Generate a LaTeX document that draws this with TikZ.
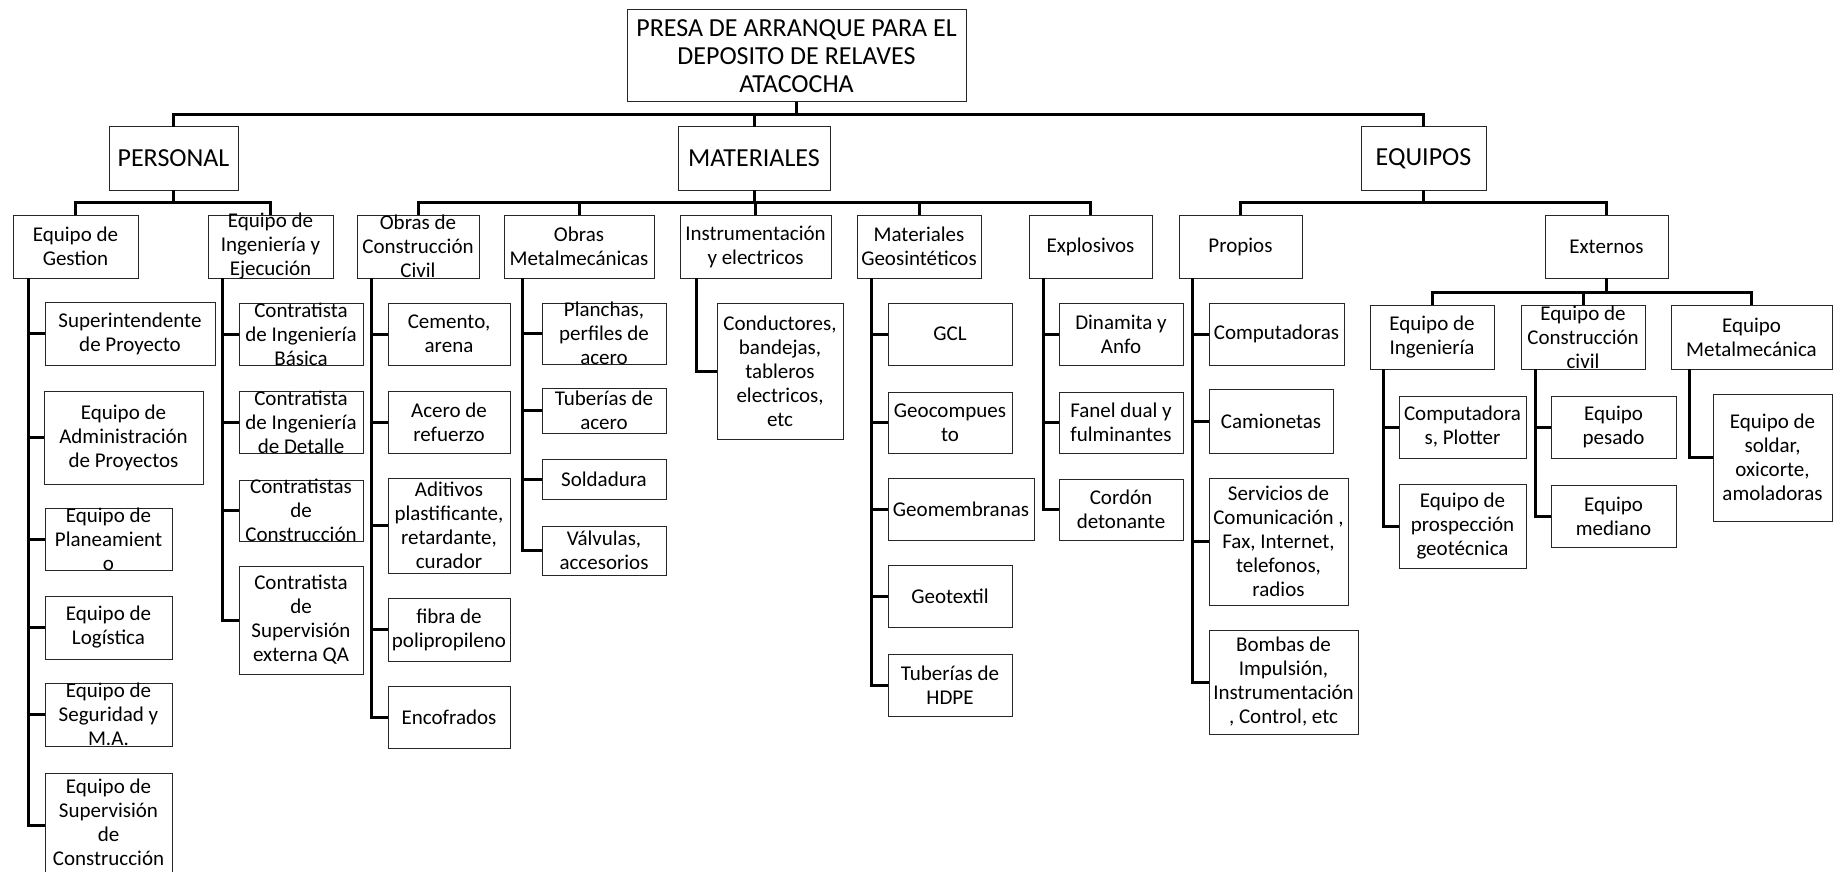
\documentclass[tikz,border=0pt]{standalone}
\usepackage{fontspec}
\setmainfont{Carlito}
\newcommand{\mybox}[6]{%
  \node[box, minimum width={(#3-#2)*1pt}, minimum height={(#5-#4)*1pt}] (#1) at ({(#2+#3)/2},{(#4+#5)/2}) {};
  \node[txt] (#1-t) at (#1.center) {#6};
}
\begin{document}
\begin{tikzpicture}[x=1pt,y=-1pt,
  box/.style={draw=black!85, line width=1pt, rectangle, inner sep=0pt, outer sep=0pt},
  txt/.style={inner sep=0pt, align=center, font=\fontsize{21}{24}\selectfont},
  bigtxt/.style={inner sep=0pt, align=center, font=\fontsize{26}{28}\selectfont},
  conn/.style={line width=3pt, black},
]
\useasboundingbox (0,0) rectangle (1833,872);
\fill[white] (0,0) rectangle (1833,872);
\clip (0,0) rectangle (1833,872);

% ---- top levels
\node[box, minimum width=339pt, minimum height=92pt] (root) at (796.5,56) {};
\node[bigtxt] (root-t) at (root.center) {PRESA DE ARRANQUE PARA EL\\DEPOSITO DE RELAVES\\ATACOCHA};
\node[box, minimum width=129pt, minimum height=63pt] (personal) at (173.5,158.5) {};
\node[bigtxt] (personal-t) at (personal.center) {PERSONAL};
\node[box, minimum width=152pt, minimum height=63pt] (materiales) at (754,158.5) {};
\node[bigtxt] (materiales-t) at (materiales.center) {MATERIALES};
\node[box, minimum width=125pt, minimum height=63pt] (equipos) at (1423.5,158.5) {};
\node[bigtxt] (equipos-t) at (equipos.center) {EQUIPOS};

% ---- level 2
\mybox{gestion}{13}{138}{215}{278}{Equipo de\\Gestion}
\mybox{ingej}{208}{333}{215}{278}{Equipo de\\Ingeniería y\\Ejecución}
\mybox{civil}{357}{479}{215}{278}{Obras de\\Construcción\\Civil}
\mybox{metal}{504}{654}{215}{278}{Obras\\Metalmecánicas}
\mybox{instr}{680}{831}{215}{278}{Instrumentación\\y electricos}
\mybox{geos}{857}{981}{215}{278}{Materiales\\Geosintéticos}
\mybox{explo}{1029}{1152}{215}{278}{Explosivos}
\mybox{propios}{1179}{1302}{215}{278}{Propios}
\mybox{externos}{1545}{1668}{215}{278}{Externos}

% ---- level 3 under Externos
\mybox{eing}{1370}{1494}{305}{369}{Equipo de\\Ingeniería}
\mybox{ecc}{1521}{1645}{305}{369}{Equipo de\\Construcción\\civil}
\mybox{emet}{1671}{1832}{305}{369}{Equipo\\Metalmecánica}

% ---- leaves: Gestion
\mybox{sup}{45}{215}{302}{365}{Superintendente\\de Proyecto}
\mybox{adm}{44}{203}{391}{484}{Equipo de\\Administración\\de Proyectos}
\mybox{plan}{45}{172}{508}{570}{Equipo de\\Planeamient\\o}
\mybox{logi}{45}{172}{596}{659}{Equipo de\\Logística}
\mybox{segu}{45}{172}{683}{746}{Equipo de\\Seguridad y\\M.A.}
\node[box, minimum width=127pt, minimum height=120pt] (supc) at (108.5,833) {};
\node[txt] (supc-t) at (108.5,822) {Equipo de\\Supervisión\\de\\Construcción};
\coordinate (supcw) at (45,825);

% ---- leaves: Ingenieria y Ejecucion
\mybox{cib}{239}{363}{303}{365}{Contratista\\de Ingeniería\\Básica}
\mybox{cid}{239}{363}{391}{453}{Contratista\\de Ingeniería\\de Detalle}
\mybox{ccon}{239}{363}{480}{541}{Contratistas\\de\\Construcción}
\mybox{csq}{239}{363}{566}{674}{Contratista\\de\\Supervisión\\externa QA}

% ---- leaves: Civil
\mybox{cem}{388}{510}{303}{365}{Cemento,\\arena}
\mybox{ace}{388}{510}{391}{453}{Acero de\\refuerzo}
\mybox{adi}{388}{510}{478}{573}{Aditivos\\plastificante,\\retardante,\\curador}
\mybox{fib}{388}{510}{598}{661}{fibra de\\polipropileno}
\mybox{enc}{388}{510}{686}{748}{Encofrados}

% ---- leaves: Metalmecanicas
\mybox{pla}{542}{666}{303}{364}{Planchas,\\perfiles de\\acero}
\mybox{tub}{542}{666}{388}{433}{Tuberías de\\acero}
\mybox{sol}{542}{666}{459}{499}{Soldadura}
\mybox{val}{542}{666}{526}{575}{Válvulas,\\accesorios}

% ---- leaves: Instrumentacion
\mybox{cond}{717}{843}{303}{439}{Conductores,\\bandejas,\\tableros\\electricos,\\etc}

% ---- leaves: Geosinteticos
\mybox{gcl}{888}{1012}{303}{365}{GCL}
\mybox{geoc}{888}{1012}{392}{453}{Geocompues\\to}
\mybox{geom}{888}{1034}{478}{540}{Geomembranas}
\mybox{geot}{888}{1012}{565}{627}{Geotextil}
\mybox{hdpe}{888}{1012}{654}{716}{Tuberías de\\HDPE}

% ---- leaves: Explosivos
\mybox{din}{1059}{1183}{303}{365}{Dinamita y\\Anfo}
\mybox{fan}{1059}{1183}{392}{453}{Fanel dual y\\fulminantes}
\mybox{cor}{1059}{1183}{479}{540}{Cordón\\detonante}

% ---- leaves: Propios
\mybox{comp}{1209}{1344}{303}{365}{Computadoras}
\mybox{cam}{1209}{1333}{389}{453}{Camionetas}
\mybox{serv}{1209}{1348}{478}{605}{Servicios de\\Comunicación ,\\Fax, Internet,\\telefonos,\\radios}
\mybox{bomb}{1209}{1358}{630}{734}{Bombas de\\Impulsión,\\Instrumentación\\, Control, etc}

% ---- leaves: Externos
\mybox{cplot}{1399}{1526}{396}{458}{Computadora\\s, Plotter}
\mybox{pros}{1399}{1526}{484}{568}{Equipo de\\prospección\\geotécnica}
\mybox{pes}{1551}{1676}{396}{458}{Equipo\\pesado}
\mybox{med}{1551}{1676}{485}{547}{Equipo\\mediano}
\mybox{sold}{1713}{1832}{394}{521}{Equipo de\\soldar,\\oxicorte,\\amoladoras}

% ---- connectors: tree bars
\foreach \c in {personal,materiales,equipos}
  \draw[conn] (root.south) -- ++(0,13) -| (\c.north);
\foreach \c in {gestion,ingej}
  \draw[conn] (personal.south) -- ++(0,12) -| (\c.north);
\foreach \c in {civil,metal,instr,geos,explo}
  \draw[conn] (materiales.south) -- ++(0,12) -| (\c.north);
\foreach \c in {propios,externos}
  \draw[conn] (equipos.south) -- ++(0,12) -| (\c.north);
\foreach \c in {eing,ecc,emet}
  \draw[conn] (externos.south) -- ++(0,14) -| (\c.north);

% ---- connectors: leaf columns
\coordinate (gestionL) at (28,278);
\foreach \c in {sup,adm,plan,logi,segu}
  \draw[conn] (gestionL) |- (\c.west);
\draw[conn] (gestionL) |- (supcw);
\coordinate (ingejL) at (222,278);
\foreach \c in {cib,cid,ccon,csq}
  \draw[conn] (ingejL) |- (\c.west);
\coordinate (civilL) at (371,278);
\foreach \c in {cem,ace,adi,fib,enc}
  \draw[conn] (civilL) |- (\c.west);
\coordinate (metalL) at (522,278);
\foreach \c in {pla,tub,sol,val}
  \draw[conn] (metalL) |- (\c.west);
\coordinate (instrL) at (696,278);
\draw[conn] (instrL) |- (cond.west);
\coordinate (geosL) at (871,278);
\foreach \c in {gcl,geoc,geom,geot,hdpe}
  \draw[conn] (geosL) |- (\c.west);
\coordinate (exploL) at (1043,278);
\foreach \c in {din,fan,cor}
  \draw[conn] (exploL) |- (\c.west);
\coordinate (propiosL) at (1192,278);
\foreach \c in {comp,cam,serv,bomb}
  \draw[conn] (propiosL) |- (\c.west);
\coordinate (eingL) at (1383,369);
\foreach \c in {cplot,pros}
  \draw[conn] (eingL) |- (\c.west);
\coordinate (eccL) at (1535,369);
\foreach \c in {pes,med}
  \draw[conn] (eccL) |- (\c.west);
\coordinate (emetL) at (1689,369);
\draw[conn] (emetL) |- (sold.west);
\end{tikzpicture}
\end{document}
